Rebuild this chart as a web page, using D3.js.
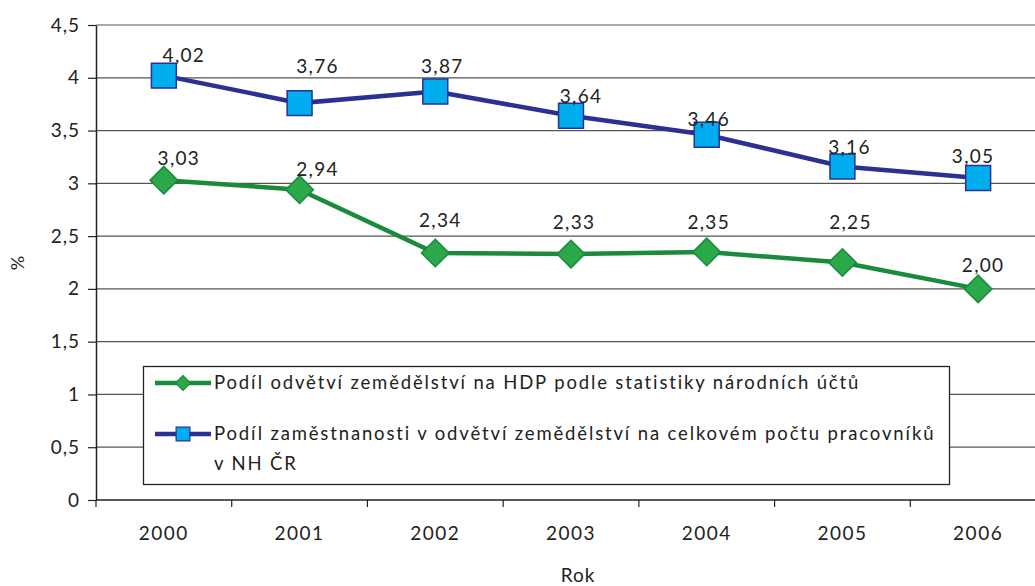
<!DOCTYPE html>
<html>
<head>
<meta charset="utf-8">
<script src="https://cdn.jsdelivr.net/npm/d3@7"></script>
<style>
  body { margin: 0; background: #fff; }
  svg text { font-family: Lato, "Open Sans", sans-serif; fill: #222; }
</style>
</head>
<body>
<div id="chart"></div>
<script>
// data
let years = ['2000', '2001', '2002', '2003', '2004', '2005', '2006'];
let hdp = [3.03, 2.94, 2.34, 2.33, 2.35, 2.25, 2.00];
let employ = [4.02, 3.76, 3.87, 3.64, 3.46, 3.16, 3.05];
let yTicks = [0, 0.5, 1, 1.5, 2, 2.5, 3, 3.5, 4, 4.5];
let legendHdp = ['Podíl odvětví zemědělství na HDP podle statistiky národních účtů'];
let legendEmploy = ['Podíl zaměstnanosti v odvětví zemědělství na celkovém počtu pracovníků', 'v NH ČR'];

// label nudges (the original labels were moved by hand)
let hdpLabelDx = [15, 18, 5, 3, 2, 8, 5];
let hdpLabelDy = [-22, -20, -33, -32, -30, -40, -24];
let employLabelDx = [20, 18, 7, 10, 2, 7, -5];
let employLabelDy = [-20, -37, -25, -19, -15, -19, -22];

let config = { svg: {}, plot: {} };
config.svg.width = 1035;
config.svg.height = 586;
config.plot.left = 96;
config.plot.right = 1046;
config.plot.top = 25;
config.plot.bottom = 500;

let svg = d3.select('#chart').append('svg')
  .attr('width', config.svg.width)
  .attr('height', config.svg.height);

let x = d3.scaleBand().domain(years).range([config.plot.left, config.plot.right]);
let y = d3.scaleLinear().domain([0, 4.5]).range([config.plot.bottom, config.plot.top]);
let fmt = v => d3.format('.2f')(v).replace('.', ',');
let tickFmt = v => String(v).replace('.', ',');

// gridlines
svg.append('g')
  .selectAll('line')
  .data(yTicks.filter(d => d > 0))
  .enter().append('line')
  .attr('x1', config.plot.left).attr('x2', config.svg.width)
  .attr('y1', d => y(d)).attr('y2', d => y(d))
  .style('stroke', '#555').style('stroke-width', 1.2);

// y axis
let yAxis = svg.append('g')
  .attr('transform', 'translate(' + config.plot.left + ',0)')
  .call(d3.axisLeft(y).tickValues(yTicks).tickFormat(tickFmt).tickSize(8).tickSizeOuter(0));
yAxis.select('.domain').style('stroke', '#222').style('stroke-width', 1.5);
yAxis.selectAll('line').style('stroke', '#222').style('stroke-width', 1.2);
yAxis.selectAll('text').style('font-size', '19px').style('letter-spacing', '1px').attr('dx', -5)
  .style('font-family', 'Lato, sans-serif').style('fill', '#222');

// x axis
let xAxis = svg.append('g')
  .attr('transform', 'translate(0,' + config.plot.bottom + ')')
  .call(d3.axisBottom(x).tickSize(0).tickSizeOuter(0));
xAxis.select('.domain').attr('d', 'M' + config.plot.left + ',0H' + config.svg.width).style('stroke', '#222').style('stroke-width', 1.5);
xAxis.selectAll('text').style('font-size', '19px').style('letter-spacing', '1.5px').attr('y', 27)
  .style('font-family', 'Lato, sans-serif').style('fill', '#222');
// band boundary ticks
svg.append('g').selectAll('line')
  .data(years)
  .enter().append('line')
  .attr('x1', d => x(d)).attr('x2', d => x(d))
  .attr('y1', config.plot.bottom).attr('y2', config.plot.bottom + 7)
  .style('stroke', '#222').style('stroke-width', 1.2);

// axis titles
svg.append('text')
  .attr('transform', 'translate(24,263) rotate(-90)')
  .style('text-anchor', 'middle').style('font-size', '18px')
  .text('%');
svg.append('text')
  .attr('x', 578).attr('y', 582)
  .style('text-anchor', 'middle').style('font-size', '19px').style('letter-spacing', '1px')
  .text('Rok');

let cx = d => x(d) + x.bandwidth() / 2;
let line = d3.line().x((d, i) => cx(years[i])).y(d => y(d));

let series = [
  { values: employ, stroke: '#2b3192', fill: '#00aeef', rot: 0, size: 620, dx: employLabelDx, dy: employLabelDy },
  { values: hdp, stroke: '#1a8a3c', fill: '#2aa84a', rot: 45, size: 380, dx: hdpLabelDx, dy: hdpLabelDy }
];

series.forEach(function(s) {
  svg.append('path')
    .attr('d', line(s.values))
    .style('fill', 'none').style('stroke', s.stroke).style('stroke-width', 4.5);
  svg.append('g').selectAll('path')
    .data(s.values)
    .enter().append('path')
    .attr('d', d3.symbol().type(d3.symbolSquare).size(s.size))
    .attr('transform', (d, i) => 'translate(' + cx(years[i]) + ',' + y(d) + ') rotate(' + s.rot + ')')
    .style('fill', s.fill).style('stroke', s.stroke).style('stroke-width', 1.5);
  svg.append('g').selectAll('text')
    .data(s.values)
    .enter().append('text')
    .attr('x', (d, i) => cx(years[i]) + s.dx[i])
    .attr('y', (d, i) => y(d) + s.dy[i])
    .attr('dy', '0.35em')
    .style('text-anchor', 'middle').style('font-size', '19px').style('letter-spacing', '1.3px')
    .text(fmt);
});

// legend
let lg = svg.append('g');
lg.append('rect')
  .attr('x', 143.5).attr('y', 366.5).attr('width', 806).attr('height', 118)
  .style('fill', '#fff').style('stroke', '#222').style('stroke-width', 1.3);

let legendItems = [
  { lines: legendHdp, stroke: '#1a8a3c', fill: '#2aa84a', rot: 45, size: 110, y: 383 },
  { lines: legendEmploy, stroke: '#2b3192', fill: '#00aeef', rot: 0, size: 190, y: 434 }
];
legendItems.forEach(function(it) {
  lg.append('line')
    .attr('x1', 155).attr('x2', 211).attr('y1', it.y).attr('y2', it.y)
    .style('stroke', it.stroke).style('stroke-width', 4.5);
  lg.append('path')
    .attr('d', d3.symbol().type(d3.symbolSquare).size(it.size))
    .attr('transform', 'translate(183,' + it.y + ') rotate(' + it.rot + ')')
    .style('fill', it.fill).style('stroke', it.stroke).style('stroke-width', 1.2);
  let t = lg.append('text')
    .attr('x', 214).attr('y', it.y)
    .style('font-size', '18.5px').style('letter-spacing', '1.85px');
  it.lines.forEach(function(l, i) {
    t.append('tspan').attr('x', 214).attr('dy', i === 0 ? '0.35em' : '1.6em').text(l);
  });
});
</script>
</body>
</html>
